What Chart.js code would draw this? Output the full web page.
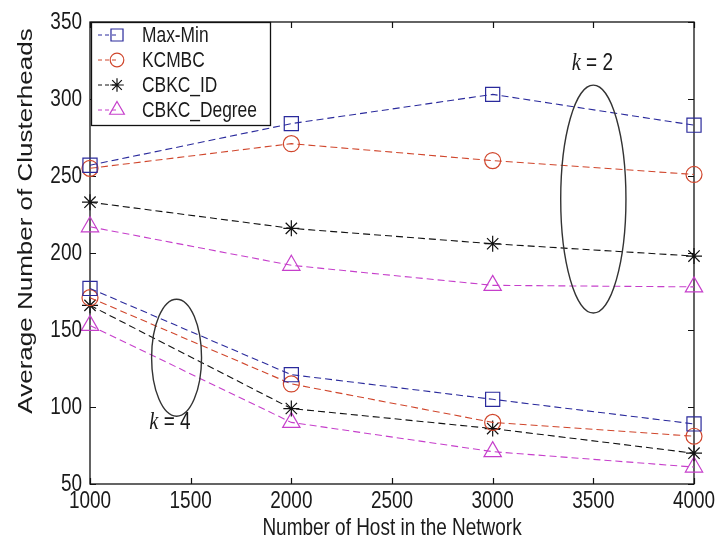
<!DOCTYPE html>
<html>
<head>
<meta charset="utf-8">
<script src="https://cdn.jsdelivr.net/npm/chart.js@4.4.1/dist/chart.umd.min.js"></script>
<style>
  html, body { margin: 0; padding: 0; background: #fff; }
  #wrap { width: 717px; height: 542px; }
</style>
</head>
<body>
<div id="wrap"><canvas id="c" width="717" height="542"></canvas></div>
<script>
// Network sizes on the x axis and the tick labels of both axes
const hosts = [1000, 2000, 3000, 4000];
const xTicks = [1000, 1500, 2000, 2500, 3000, 3500, 4000];
const yTicks = [50, 100, 150, 200, 250, 300, 350];

const seriesNames = ['Max-Min', 'KCMBC', 'CBKC_ID', 'CBKC_Degree'];
const xTitle = 'Number of Host in the Network';
const yTitle = 'Average Number of Clusterheads';

// Average number of clusterheads, k = 2
const maxMinK2   = [257, 284, 303, 283];
const kcmbcK2    = [255, 271, 260, 251];
const cbkcIdK2   = [233, 216, 206, 198];
const cbkcDegK2  = [217, 192, 179, 178];

// Average number of clusterheads, k = 4
const maxMinK4   = [177, 121, 105, 89];
const kcmbcK4    = [171, 115, 90, 81];
const cbkcIdK4   = [166, 99, 86, 70];
const cbkcDegK4  = [153, 90, 71, 61];

// Group annotations (data units): ellipse around each family of curves
const groupK2 = { label: '2', cx: 3500, cy: 235, rx: 162, ry: 74, tx: 3495, ty: 323 };
const groupK4 = { label: '4', cx: 1430, cy: 132, rx: 124, ry: 38, tx: 1397, ty: 90 };

const FONT = '"Liberation Sans", Arial, Helvetica, sans-serif';
const INK = '#1a1a1a';
const SQUEEZE = 0.79;   // glyphs are drawn narrower than tall

const styles = [
  { color: '#2a2a9c', pointStyle: 'rect',     radius: 10 },
  { color: '#d0462c', pointStyle: 'circle',   radius: 8 },
  { color: '#111111', pointStyle: 'star',     radius: 8 },
  { color: '#c63fcb', pointStyle: 'triangle', radius: 10 }
];

function makeSet(name, values, s) {
  return {
    label: name,
    data: hosts.map((h, i) => ({ x: h, y: values[i] })),
    borderColor: s.color,
    borderWidth: 1.1,
    borderDash: [7, 4],
    pointStyle: s.pointStyle,
    pointRadius: s.radius,
    pointHoverRadius: s.radius,
    pointBorderColor: s.color,
    pointBackgroundColor: 'rgba(0,0,0,0)',
    pointBorderWidth: 1.2,
    tension: 0,
    fill: false,
    clip: false
  };
}

const k2 = [maxMinK2, kcmbcK2, cbkcIdK2, cbkcDegK2];
const k4 = [maxMinK4, kcmbcK4, cbkcIdK4, cbkcDegK4];
const datasets = [
  ...k2.map((v, i) => makeSet(seriesNames[i], v, styles[i])),
  ...k4.map((v, i) => makeSet(seriesNames[i] + ' (k=4)', v, styles[i]))
];

// Text drawn with narrowed glyphs; rot = -90deg for the vertical title
function narrowText(ctx, text, x, y, opts) {
  const o = Object.assign({ size: 24, align: 'center', baseline: 'middle', rot: 0, style: '' }, opts || {});
  ctx.save();
  ctx.translate(x, y);
  if (o.rot) {
    ctx.rotate(o.rot);
    ctx.scale(1, SQUEEZE);
  } else {
    ctx.scale(SQUEEZE, 1);
  }
  ctx.font = (o.style ? o.style + ' ' : '') + o.size + 'px ' + (o.family || FONT);
  ctx.textAlign = o.align;
  ctx.textBaseline = o.baseline;
  ctx.fillStyle = INK;
  ctx.fillText(text, 0, 0);
  ctx.restore();
}
function narrowWidth(ctx, text, font) {
  ctx.save(); ctx.font = font; const w = ctx.measureText(text).width * SQUEEZE; ctx.restore();
  return w;
}

// Box around the plot with inward tick marks on all four sides
const framePlugin = {
  id: 'frame',
  beforeDatasetsDraw(chart) {
    const { ctx, chartArea: a, scales: { x, y } } = chart;
    ctx.save();
    ctx.strokeStyle = '#111';
    ctx.lineWidth = 1.3;
    ctx.strokeRect(a.left, a.top, a.right - a.left, a.bottom - a.top);
    ctx.lineWidth = 1.2;
    const t = 6;
    ctx.beginPath();
    xTicks.forEach(v => {
      const px = Math.round(x.getPixelForValue(v)) + 0.5;
      ctx.moveTo(px, a.bottom); ctx.lineTo(px, a.bottom - t);
      ctx.moveTo(px, a.top); ctx.lineTo(px, a.top + t);
    });
    yTicks.forEach(v => {
      const py = Math.round(y.getPixelForValue(v)) + 0.5;
      ctx.moveTo(a.left, py); ctx.lineTo(a.left + t, py);
      ctx.moveTo(a.right, py); ctx.lineTo(a.right - t, py);
    });
    ctx.stroke();
    ctx.restore();
  },
  afterDraw(chart) {
    const { ctx, chartArea: a, scales: { x, y } } = chart;
    xTicks.forEach(v => narrowText(ctx, String(v), x.getPixelForValue(v), a.bottom + 17));
    yTicks.forEach(v => narrowText(ctx, String(v), a.left - 8, y.getPixelForValue(v), { align: 'right' }));
    narrowText(ctx, xTitle, (a.left + a.right) / 2, a.bottom + 44);
    narrowText(ctx, yTitle, 26, 221, { size: 26, rot: -Math.PI / 2 });
  }
};

// Ellipses marking the k = 2 and k = 4 families, with their labels
const groupPlugin = {
  id: 'groups',
  afterDatasetsDraw(chart) {
    const { ctx, scales: { x, y } } = chart;
    ctx.save();
    [groupK2, groupK4].forEach(g => {
      const cx = x.getPixelForValue(g.cx), cy = y.getPixelForValue(g.cy);
      const rx = Math.abs(x.getPixelForValue(g.cx + g.rx) - cx);
      const ry = Math.abs(y.getPixelForValue(g.cy + g.ry) - cy);
      ctx.beginPath();
      ctx.ellipse(cx, cy, rx, ry, 0, 0, Math.PI * 2);
      ctx.strokeStyle = '#333';
      ctx.lineWidth = 1.4;
      ctx.stroke();

      const tx = x.getPixelForValue(g.tx), ty = y.getPixelForValue(g.ty);
      const serif = '"Liberation Serif", "Times New Roman", serif';
      const rest = ' = ' + g.label;
      const wk = narrowWidth(ctx, 'k', 'italic 26px ' + serif);
      const wr = narrowWidth(ctx, rest, '24px ' + FONT);
      const sx = tx - (wk + wr) / 2;
      narrowText(ctx, 'k', sx, ty, { align: 'left', size: 26, style: 'italic', family: serif });
      narrowText(ctx, rest, sx + wk, ty, { align: 'left' });
    });
    ctx.restore();
  }
};

// Legend box in the upper-left corner of the plot
const legendPlugin = {
  id: 'boxLegend',
  afterDatasetsDraw(chart) {
    const { ctx, chartArea: a } = chart;
    const left = a.left + 1, top = a.top, w = 179, h = 103;
    ctx.save();
    ctx.fillStyle = '#fff';
    ctx.fillRect(left, top, w, h);
    ctx.strokeStyle = '#111';
    ctx.lineWidth = 1.3;
    ctx.strokeRect(left + 0.5, top + 0.5, w, h);
    seriesNames.forEach((name, i) => {
      const s = styles[i];
      const cy = top + 13 + i * 25;
      const mx = left + 26;
      ctx.save();
      ctx.strokeStyle = s.color;
      ctx.lineWidth = 1;
      ctx.setLineDash([4, 3]);
      ctx.beginPath();
      ctx.moveTo(left + 7, cy); ctx.lineTo(mx, cy);
      ctx.stroke();
      ctx.restore();
      ctx.strokeStyle = s.color;
      ctx.fillStyle = 'rgba(0,0,0,0)';
      ctx.lineWidth = 1.2;
      Chart.helpers.drawPoint(ctx, { pointStyle: s.pointStyle, radius: s.radius * 0.85, borderWidth: 1.2, rotation: 0 }, mx, cy);
      narrowText(ctx, name, left + 51, cy + 1, { align: 'left', size: 22 });
    });
    ctx.restore();
  }
};

new Chart(document.getElementById('c'), {
  type: 'line',
  data: { datasets },
  plugins: [framePlugin, groupPlugin, legendPlugin],
  options: {
    responsive: false,
    animation: false,
    devicePixelRatio: 1,
    layout: { padding: { top: 22, right: 23, left: 0, bottom: 0 } },
    plugins: { legend: { display: false }, tooltip: { enabled: false } },
    scales: {
      x: {
        type: 'linear',
        min: 1000, max: 4000,
        afterBuildTicks: s => { s.ticks = xTicks.map(v => ({ value: v })); },
        afterFit: s => { s.height = 58; },
        grid: { display: false, drawTicks: false },
        border: { display: false },
        ticks: { display: false },
        title: { display: false }
      },
      y: {
        type: 'linear',
        min: 50, max: 350,
        afterBuildTicks: s => { s.ticks = yTicks.map(v => ({ value: v })); },
        afterFit: s => { s.width = 90; },
        grid: { display: false, drawTicks: false },
        border: { display: false },
        ticks: { display: false },
        title: { display: false }
      }
    }
  }
});
</script>
</body>
</html>
